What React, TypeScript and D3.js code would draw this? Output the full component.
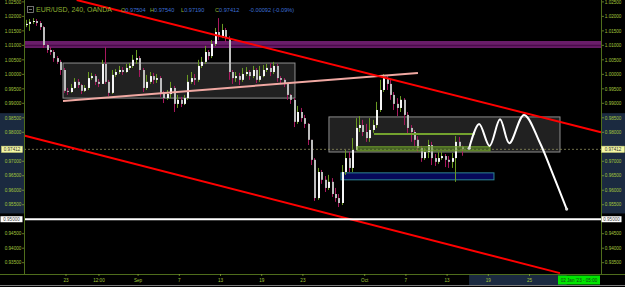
import React from "react";
import * as d3 from "d3";

// ---- data (4-hour-ish bars) ----
const firstOpen = 1.017;
const closes = [
  1.0174, 1.0181, 1.0184, 1.0177, 1.0163, 1.0101, 1.0084, 1.0077, 1.0056, 1.0043,
  1.0015, 0.9943, 0.9939, 0.9953, 0.9974, 0.9963, 0.9943, 0.9953, 0.9987, 0.9994,
  0.9974, 0.9967, 1.0036, 0.9974, 0.9936, 0.9998, 1.0008, 1.0015, 1.0008, 1.0022,
  1.0029, 1.005, 1.0056, 1.0015, 0.9953, 0.9974, 0.9994, 0.9981, 0.9987, 0.9936,
  0.9918, 0.9932, 0.9953, 0.9898, 0.9912, 0.9898, 0.9918, 0.9974, 0.9987, 0.9981,
  1.0029, 1.0043, 1.0077, 1.0063, 1.0105, 1.0146, 1.0132, 1.0153, 1.0125, 1.0008,
  0.9987, 0.9994, 0.9981, 1.0001, 1.0008, 0.9994, 1.0015, 0.9981, 0.9994, 1.0015,
  1.0022, 1.0008, 1.0029, 0.9987, 0.9981, 0.9967, 0.9929, 0.9912, 0.9836, 0.987,
  0.9849, 0.9829, 0.9774, 0.9705, 0.9573, 0.9663, 0.9636, 0.9608, 0.9629, 0.9587,
  0.9573, 0.9556, 0.9663, 0.9711, 0.9677, 0.9739, 0.9815, 0.9825, 0.9801, 0.978,
  0.9808, 0.9825, 0.9877, 0.9946, 0.9987, 0.9967, 0.9929, 0.9898, 0.9884, 0.9912,
  0.986, 0.9815, 0.9801, 0.9774, 0.9746, 0.9711, 0.9732, 0.9756, 0.9711, 0.9698,
  0.9711, 0.9718, 0.9705, 0.9698, 0.9711, 0.9767, 0.97504, 0.97412,
];
const highs = [
  1.0188, 1.0191, 1.0194, 1.0191, 1.0184, 1.0167, 1.0105, 1.0094, 1.0084, 1.0063,
  1.005, 1.0022, 0.9953, 0.9967, 0.9987, 0.9984, 0.9967, 0.9963, 1.0008, 1.0005,
  1.0001, 0.9984, 1.005, 1.0094, 0.9981, 1.0015, 1.0018, 1.0029, 1.0025, 1.0036,
  1.0039, 1.0067, 1.0084, 1.0063, 1.0022, 0.9998, 1.0008, 1.0005, 1.0001, 0.9994,
  0.9943, 0.9946, 0.9974, 0.996, 0.9929, 0.9922, 0.9929, 0.9998, 1.0008, 1.0001,
  1.005, 1.006, 1.0098, 1.0084, 1.0118, 1.016, 1.0194, 1.0174, 1.016, 1.0132,
  1.0015, 1.0008, 1.0005, 1.0022, 1.0025, 1.0015, 1.0029, 1.0022, 1.0029, 1.0032,
  1.0036, 1.0039, 1.0043, 1.0036, 0.9994, 0.9987, 0.9967, 0.9932, 0.9918, 0.9891,
  0.9884, 0.986, 0.9832, 0.9774, 0.9711, 0.9677, 0.967, 0.9649, 0.9653, 0.9642,
  0.9608, 0.9587, 0.9687, 0.9739, 0.9732, 0.978, 0.9849, 0.9856, 0.9843, 0.9829,
  0.9849, 0.9843, 0.9905, 0.9981, 1.0001, 0.9994, 0.9981, 0.9939, 0.9918, 0.9925,
  0.9918, 0.987, 0.9825, 0.9808, 0.9787, 0.9753, 0.9746, 0.9774, 0.9767, 0.9725,
  0.9732, 0.9732, 0.9725, 0.9718, 0.9729, 0.9787, 0.9784, 0.9754,
];
const lows = [
  1.0163, 1.015, 1.0174, 1.0167, 1.0153, 1.0091, 1.0074, 1.0067, 1.0043, 1.0036,
  0.9998, 0.9936, 0.9929, 0.9936, 0.995, 0.9953, 0.9932, 0.9939, 0.9946, 0.9981,
  0.9963, 0.9956, 0.9967, 0.9967, 0.9925, 0.9932, 0.9991, 1.0001, 0.9998, 1.0005,
  1.0015, 1.0022, 1.0036, 0.9991, 0.9939, 0.9946, 0.9967, 0.9967, 0.997, 0.9922,
  0.9901, 0.9912, 0.9918, 0.987, 0.9884, 0.9887, 0.9894, 0.9912, 0.9967, 0.9963,
  0.9974, 1.0022, 1.0036, 1.005, 1.0056, 1.0098, 1.0118, 1.0125, 1.0112, 0.9981,
  0.9967, 0.9974, 0.9963, 0.9974, 0.9994, 0.9981, 0.9987, 0.997, 0.9974, 0.999,
  1.0008, 0.9994, 1.0001, 0.9974, 0.9967, 0.9956, 0.9912, 0.9898, 0.9818, 0.9829,
  0.9836, 0.9815, 0.9756, 0.9687, 0.9563, 0.9567, 0.9622, 0.9594, 0.9601, 0.9577,
  0.956, 0.9542, 0.9549, 0.9653, 0.9663, 0.9663, 0.9739, 0.9801, 0.9787, 0.9767,
  0.9767, 0.9798, 0.9815, 0.987, 0.9939, 0.9946, 0.9912, 0.9877, 0.9856, 0.987,
  0.9825, 0.9794, 0.9767, 0.9753, 0.9732, 0.9698, 0.9705, 0.9711, 0.9687, 0.9684,
  0.9691, 0.9705, 0.968, 0.9677, 0.9677, 0.9629, 0.9748, 0.9719,
];

const priceTicks = [
  1.025, 1.02, 1.015, 1.01, 1.005, 1.0, 0.995, 0.99, 0.985, 0.98,
  0.97, 0.965, 0.96, 0.955, 0.945, 0.94, 0.935,
];
// trading-day index (0 = Aug 23)
const timeTicks = [
  { d: 0, label: "23" },
  { d: 3.2, label: "12:00" },
  { d: 7, label: "Sep" },
  { d: 11, label: "7" },
  { d: 15, label: "13" },
  { d: 19, label: "19" },
  { d: 23, label: "23" },
  { d: 29, label: "Oct" },
  { d: 33, label: "7" },
  { d: 37, label: "13" },
  { d: 41, label: "19" },
  { d: 45, label: "25" },
];

const lastPrice = 0.97412;
const roundLevel = 0.95;
const purpleLevel = { hi: 1.0115, lo: 1.0091 };
const box1 = { d0: -0.29, d1: 22.23, p0: 1.0039, p1: 0.9918 };
const box2 = { d0: 25.53, d1: 47.96, p0: 0.9853, p1: 0.9732 };
const pinkLine = [
  { d: -0.29, p: 0.9908 },
  { d: 34.17, p: 1.0005 },
];
const redUpper = [
  { d: 1.04, p: 1.02565 },
  { d: 51.94, p: 0.98 },
];
const redLower = [
  { d: -4.08, p: 0.9789 },
  { d: 47.96, p: 0.9314 },
];
const greenLine = { d0: 29.9, d1: 39.7, p: 0.9794 };
const greenBand = { d0: 28.25, d1: 41.17, p0: 0.975, p1: 0.9736 };
const blueZone = { d0: 26.7, d1: 41.55, p0: 0.966, p1: 0.9636 };
const projection = [
  { d: 39.14, p: 0.97449 },
  { d: 40.11, p: 0.98287 },
  { d: 41.12, p: 0.9753 },
  { d: 42.14, p: 0.9845 },
  { d: 43.04, p: 0.9762 },
  { d: 44.47, p: 0.986 },
  { d: 46.02, p: 0.9763 },
  { d: 47.18, p: 0.9663 },
  { d: 48.61, p: 0.9535 },
];
const ohlc = [
  { k: "O", v: "0.97504", x: 121 },
  { k: "H", v: "0.97540", x: 150 },
  { k: "L", v: "0.97190", x: 181 },
  { k: "C", v: "0.97412", x: 215 },
];
const changeText = "-0.00092 (-0.09%)";
const axisHighlight = { hi: 0.9866, lo: 0.952 };
const barStartDay = -3.786;
const barsPerDay = 3;

const W = 625;
const H = 287;
const L = 24;
const R = 601;
const B = 274;
const FONT = "'Liberation Sans', Arial, sans-serif";
const AXIS_TXT = "#a3c63c";
const AXIS_LINE = "#4f6d1c";

export default function App() {
  const y = d3.scaleLinear().domain([1.02565, 0.9311]).range([0, B]);
  const x = d3.scaleLinear().domain([-4.078, 51.942]).range([L, R]);
  const fmt = d3.format(".5f");
  const line = d3
    .line<{ d: number; p: number }>()
    .x((q) => x(q.d))
    .y((q) => y(q.p));
  const curve = d3
    .line<{ d: number; p: number }>()
    .x((q) => x(q.d))
    .y((q) => y(q.p))
    .curve(d3.curveCatmullRom.alpha(0.5));

  const candles = closes.map((c, i) => {
    const o = i === 0 ? firstOpen : closes[i - 1];
    const up = c >= o;
    const cx = Math.round(x(barStartDay + i / barsPerDay));
    const top = y(Math.max(o, c));
    const bot = y(Math.min(o, c));
    return (
      <g key={i}>
        <line
          x1={cx - 0.5}
          x2={cx - 0.5}
          y1={y(highs[i])}
          y2={y(lows[i])}
          stroke={up ? "#6a9a22" : "#a8185e"}
          strokeWidth={1}
        />
        <rect
          x={cx - 1}
          y={top}
          width={2}
          height={Math.max(1, bot - top)}
          fill={up ? "#f6f6f6" : "#bdbdbd"}
        />
      </g>
    );
  });

  const hlTop = y(axisHighlight.hi);
  const hlBot = y(axisHighlight.lo);
  const hideNear = (v: number) =>
    Math.abs(y(v) - y(lastPrice)) < 5 || Math.abs(y(v) - y(roundLevel)) < 5;

  const projStart = x(projection[0].d);
  const projEnd = x(projection[projection.length - 1].d);

  return (
    <svg
      width={W}
      height={H}
      style={{ position: "absolute", left: 0, top: 0, background: "#000" }}
      fontFamily={FONT}
    >
      <rect x={0} y={0} width={W} height={H} fill="#000" />
      {/* axis highlight bands */}
      <rect x={0} y={hlTop} width={L} height={hlBot - hlTop} fill="#1b2a40" />
      <rect x={R} y={hlTop} width={W - R} height={hlBot - hlTop} fill="#1b2a40" />
      <rect x={projStart} y={B + 1} width={projEnd - projStart} height={10} fill="#1b2a40" />

      {/* purple level */}
      <rect
        x={L}
        y={y(purpleLevel.hi)}
        width={R - L}
        height={y(purpleLevel.lo) - y(purpleLevel.hi)}
        fill="#6a1d6a"
      />
      <line
        x1={L}
        x2={R}
        y1={(y(purpleLevel.hi) + y(purpleLevel.lo)) / 2 + 1}
        y2={(y(purpleLevel.hi) + y(purpleLevel.lo)) / 2 + 1}
        stroke="#4a0c4a"
        strokeWidth={1.5}
      />

      {/* boxes */}
      {[box1, box2].map((b, i) => (
        <rect
          key={i}
          x={x(b.d0)}
          y={y(b.p0)}
          width={x(b.d1) - x(b.d0)}
          height={y(b.p1) - y(b.p0)}
          fill="rgba(255,255,255,0.13)"
          stroke="#8e8e8e"
          strokeWidth={1}
        />
      ))}

      {/* blue zone */}
      <rect
        x={x(blueZone.d0)}
        y={y(blueZone.p0)}
        width={x(blueZone.d1) - x(blueZone.d0)}
        height={y(blueZone.p1) - y(blueZone.p0)}
        fill="#06095a"
        stroke="#2d8596"
        strokeWidth={1}
      />

      {/* current price dashed */}
      <line
        x1={L}
        x2={R}
        y1={y(lastPrice)}
        y2={y(lastPrice)}
        stroke="#8c8c5c"
        strokeWidth={0.8}
        strokeDasharray="2,2"
      />

      {/* candles */}
      {candles}

      {/* green lines */}
      <line
        x1={x(greenLine.d0)}
        x2={x(greenLine.d1)}
        y1={y(greenLine.p)}
        y2={y(greenLine.p)}
        stroke="#73a22e"
        strokeWidth={2}
      />
      <rect
        x={x(greenBand.d0)}
        y={y(greenBand.p0)}
        width={x(greenBand.d1) - x(greenBand.d0)}
        height={y(greenBand.p1) - y(greenBand.p0)}
        fill="rgba(100,150,40,0.55)"
        stroke="#6e9e2a"
        strokeWidth={1}
      />

      {/* trend lines */}
      <path d={line(pinkLine) || ""} stroke="#f0a8a2" strokeWidth={2} fill="none" />
      <path d={line(redUpper) || ""} stroke="#ff0000" strokeWidth={2} fill="none" />
      <path d={line(redLower) || ""} stroke="#ff0000" strokeWidth={2} fill="none" />

      {/* round number level */}
      <line x1={L} x2={R} y1={y(roundLevel)} y2={y(roundLevel)} stroke="#fff" strokeWidth={2} />

      {/* projection */}
      <path d={curve(projection) || ""} stroke="#fff" strokeWidth={2} fill="none" />
      <circle cx={x(projection[0].d)} cy={y(projection[0].p)} r={1.6} fill="#ddd" />
      <circle
        cx={x(projection[projection.length - 1].d)}
        cy={y(projection[projection.length - 1].p)}
        r={1.6}
        fill="#ddd"
      />

      {/* header */}
      <rect x={27.5} y={6.5} width={6} height={6} fill="none" stroke="#8a8a8a" strokeWidth={0.8} />
      <line x1={29} x2={32} y1={9.5} y2={9.5} stroke="#8a8a8a" strokeWidth={0.8} />
      <text x={36} y={12} fontSize={7} fill="#8fb032">
        EUR/USD, 240, OANDA
      </text>
      {ohlc.map((g) => (
        <text key={g.k} x={g.x} y={12} fontSize={5.6}>
          <tspan fill="#8fb032">{g.k}</tspan>
          <tspan fill="#3d6fd6">{g.v}</tspan>
        </text>
      ))}
      <text x={249} y={12} fontSize={5.6} fill="#3d6fd6">
        {changeText}
      </text>

      {/* axes lines */}
      <line x1={L + 0.5} x2={L + 0.5} y1={0} y2={B} stroke={AXIS_LINE} />
      <line x1={R + 0.5} x2={R + 0.5} y1={0} y2={B} stroke={AXIS_LINE} />
      <line x1={0} x2={W} y1={B + 0.5} y2={B + 0.5} stroke={AXIS_LINE} />
      <line x1={0} x2={W} y1={285.5} y2={285.5} stroke="#7a7a7a" />

      {/* price axis labels */}
      {priceTicks.map((v) =>
        hideNear(v) ? null : (
          <g key={v}>
            <line x1={22} x2={24} y1={y(v)} y2={y(v)} stroke={AXIS_TXT} strokeWidth={0.6} />
            <line x1={R + 1} x2={R + 3} y1={y(v)} y2={y(v)} stroke={AXIS_TXT} strokeWidth={0.6} />
            <text x={21.3} y={y(v) + 1.7} fontSize={4.6} textAnchor="end" fill={AXIS_TXT}>
              {fmt(v)}
            </text>
            <text x={R + 3.8} y={y(v) + 1.7} fontSize={4.6} fill={AXIS_TXT}>
              {fmt(v)}
            </text>
          </g>
        )
      )}

      {/* last price labels */}
      {[
        { x0: 1.5, w: 21, tx: 12 },
        { x0: R + 0.5, w: 23, tx: R + 12 },
      ].map((b, i) => (
        <g key={"lp" + i}>
          <rect x={b.x0} y={y(lastPrice) - 3.2} width={b.w} height={6.4} fill="#f4f7a6" stroke="#c8cc70" strokeWidth={0.5} />
          <text x={b.tx} y={y(lastPrice) + 1.7} fontSize={4.6} textAnchor="middle" fill="#333">
            {fmt(lastPrice)}
          </text>
        </g>
      ))}
      {[
        { x0: 0.5, w: 22, tx: 11.5 },
        { x0: R + 0.5, w: 20, tx: R + 10.5 },
      ].map((b, i) => (
        <g key={"rl" + i}>
          <rect x={b.x0} y={y(roundLevel) - 3} width={b.w} height={6} fill="#fff" />
          <text x={b.tx} y={y(roundLevel) + 1.7} fontSize={4.6} textAnchor="middle" fill="#444">
            {fmt(roundLevel)}
          </text>
        </g>
      ))}

      {/* time axis */}
      {timeTicks.map((t) => (
        <g key={t.d}>
          <line x1={x(t.d)} x2={x(t.d)} y1={B} y2={B + 2} stroke={AXIS_TXT} strokeWidth={0.6} />
          <text x={x(t.d)} y={B + 8.3} fontSize={4.6} textAnchor="middle" fill={AXIS_TXT}>
            {t.label}
          </text>
        </g>
      ))}
      <rect x={558} y={275.5} width={42} height={9} fill="#00e600" />
      <text x={579} y={281.6} fontSize={4.6} textAnchor="middle" fill="#1a3a1a">
        02 Jan '23 - 05:00
      </text>
    </svg>
  );
}
